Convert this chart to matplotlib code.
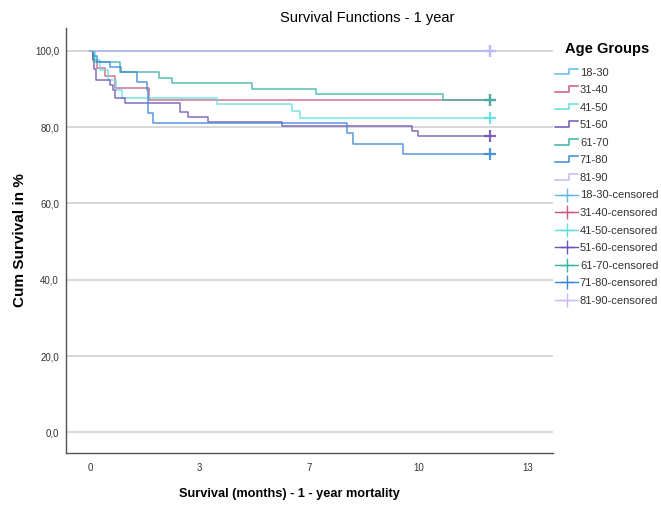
import matplotlib
matplotlib.use('Agg')
import matplotlib.pyplot as plt
from matplotlib.lines import Line2D
from matplotlib.legend_handler import HandlerBase

plt.rcParams['font.family'] = ['Liberation Sans', 'DejaVu Sans']

# Kaplan-Meier step data per age group (months, cumulative survival %)
groups = ['18-30', '31-40', '41-50', '51-60', '61-70', '71-80', '81-90']
colors = ['#62b9ea', '#cc5a7e', '#5fe0e0', '#6f53b6', '#3ab3a4', '#3b89d4', '#c9b9f6']

times_18_30 = [0]
surv_18_30 = [100]

times_31_40 = [0, 0.10, 0.22, 0.45, 0.76, 1.80]
surv_31_40 = [100, 97.5, 95.6, 93.5, 90.2, 87.2]

times_41_50 = [0, 0.14, 0.30, 0.55, 0.80, 0.96, 3.87, 6.15, 6.40]
surv_41_50 = [100, 97.6, 95.0, 92.4, 89.8, 87.7, 86.2, 84.3, 82.5]

times_51_60 = [0, 0.08, 0.12, 0.18, 0.61, 0.71, 0.76, 1.07, 2.74, 2.99, 3.60, 5.83, 9.79, 9.97]
surv_51_60 = [100, 97.6, 95.2, 92.4, 91.1, 89.8, 87.6, 86.4, 83.9, 82.6, 81.4, 80.2, 79.0, 77.7]

times_61_70 = [0, 0.12, 0.91, 2.10, 2.50, 4.92, 6.88, 10.75]
surv_61_70 = [100, 97.2, 94.4, 93.0, 91.5, 90.0, 88.7, 87.2]

times_71_80 = [0, 0.10, 0.20, 0.60, 0.95, 1.44, 1.72, 1.78, 1.93, 7.83, 7.99, 9.52]
surv_71_80 = [100, 98.6, 97.2, 95.8, 94.4, 91.8, 89.8, 83.8, 81.0, 78.4, 75.6, 72.9]

times_81_90 = [0]
surv_81_90 = [100]

follow_up_end = 12.17

all_times = [times_18_30, times_31_40, times_41_50, times_51_60,
             times_61_70, times_71_80, times_81_90]
all_surv = [surv_18_30, surv_31_40, surv_41_50, surv_51_60,
            surv_61_70, surv_71_80, surv_81_90]

x_ticks = [0, 10 / 3, 20 / 3, 10, 40 / 3]
x_tick_labels = ['0', '3', '7', '10', '13']
y_ticks = [0, 20, 40, 60, 80, 100]
y_tick_labels = ['0,0', '20,0', '40,0', '60,0', '80,0', '100,0']


class StepHandler(HandlerBase):
    # small step glyph used for the survival lines in the legend
    def create_artists(self, legend, orig_handle, xdescent, ydescent,
                       width, height, fontsize, trans):
        x0, y0 = -xdescent, -ydescent
        xs = [x0, x0 + 0.6 * width, x0 + 0.6 * width, x0 + width]
        ys = [y0 + 0.15 * height, y0 + 0.15 * height, y0 + 0.9 * height, y0 + 0.9 * height]
        line = Line2D(xs, ys, color=orig_handle.get_color(),
                      lw=orig_handle.get_linewidth())
        line.set_transform(trans)
        return [line]


fig = plt.figure(figsize=(6.61, 5.09), dpi=100)
ax = fig.add_axes([66 / 661, 1 - 453 / 509, (553 - 66) / 661, (453 - 28) / 509])

ax.set_xlim(-0.73, 14.09)
ax.set_ylim(-5.4, 106)
ax.set_yticks(y_ticks)
ax.set_yticklabels(y_tick_labels)
ax.set_xticks(x_ticks)
ax.set_xticklabels(x_tick_labels)
ax.yaxis.grid(True, color='#d4d4d4', lw=1.3)
ax.set_axisbelow(True)
ax.tick_params(length=0, labelsize=7, labelcolor='#333333')
ax.tick_params(axis='x', pad=7)
ax.tick_params(axis='y', pad=5)
for side in ['top', 'right']:
    ax.spines[side].set_visible(False)
for side in ['left', 'bottom']:
    ax.spines[side].set_color('#555555')
    ax.spines[side].set_linewidth(1.0)

line_handles = []
cens_handles = []
# curves drawn in group order; 81-90 ends up on top of the 100% line
for i in range(len(groups)):
    t = all_times[i] + [follow_up_end]
    s = all_surv[i] + [all_surv[i][-1]]
    ax.step(t, s, where='post', color=colors[i], lw=1.1, alpha=0.85)
    ax.plot(follow_up_end, all_surv[i][-1], marker='+', ms=9, mew=1.6,
            color=colors[i], ls='none', alpha=0.9)

for i in range(len(groups)):
    line_handles.append(Line2D([], [], color=colors[i], lw=1.1))
    cens_handles.append(Line2D([], [], color=colors[i], lw=1.0,
                               marker='+', ms=10, mew=1.0))

labels = groups + [g + '-censored' for g in groups]
leg = fig.legend(line_handles + cens_handles, labels,
                 loc='upper left', bbox_to_anchor=(551 / 661, 1 - 38 / 509),
                 frameon=False, title='Age Groups',
                 title_fontproperties={'weight': 'bold', 'size': 10.5},
                 prop={'size': 8}, handlelength=2.0, handletextpad=0.2,
                 labelspacing=0.68, borderaxespad=0,
                 handler_map={line_handles[i]: StepHandler() for i in range(len(groups))})
# a little extra room between the legend title and the first entry
leg._legend_box.sep = 8
for txt in leg.get_texts():
    txt.set_color('#333333')

ax.set_ylabel('Cum Survival in %', fontsize=11, fontweight='bold', labelpad=6)
ax.set_xlabel('Survival (months) - 1 - year mortality', fontsize=9.2,
              fontweight='bold')
ax.xaxis.set_label_coords((289 - 66) / 487, -(488 - 453) / 425)
fig.text(367 / 661, 1 - 18 / 509, 'Survival Functions - 1 year', ha='center',
         va='center', fontsize=10.5)

fig.savefig('out.png', dpi=100)
